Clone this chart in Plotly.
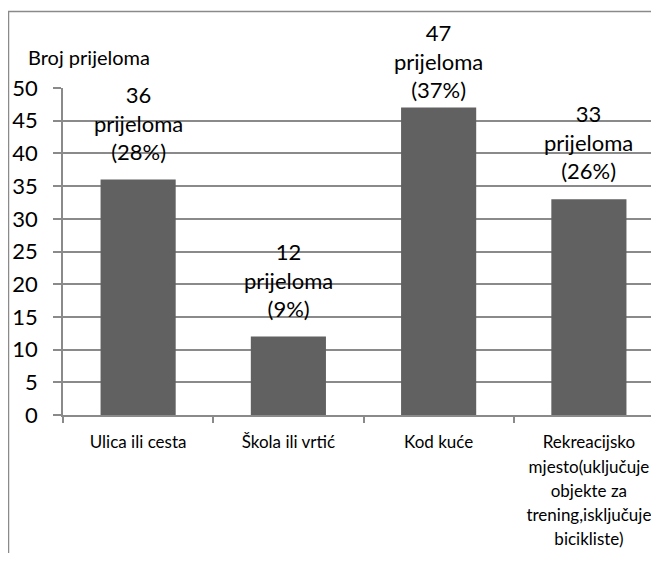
import plotly.graph_objects as go

# data
categories = ["Ulica ili cesta", "Škola ili vrtić", "Kod kuće",
              "Rekreacijsko mjesto(uključuje objekte za trening,isključuje bicikliste)"]
tick_lines = [["Ulica ili cesta"], ["Škola ili vrtić"], ["Kod kuće"],
              ["Rekreacijsko", "mjesto(uključuje", "objekte za",
               "trening,isključuje", "bicikliste)"]]
counts = [36, 12, 47, 33]
percents = [28, 9, 37, 26]
y_title = "Broj prijeloma"

FONT = "Lato, Carlito, Calibri, sans-serif"
GRAY = "#8a8a8a"

# the page body has an 8px margin, so the figure is placed 8px in
OFF = 8
W, H = 659 - 2 * OFF, 561 - 2 * OFF
ml, mt = 63 - OFF, 88 - OFF
mb = H - (415.5 - OFF)
plot_w = W - ml
plot_h = H - mt - mb
# full category band is 150px; the plot is cut at the right edge
x_end = 3.5 - (664 - (OFF + W)) / 150


def px_x(page_x):
    return (page_x - OFF - ml) / plot_w


def px_y(page_y):
    return (H - mb - (page_y - OFF)) / plot_h


# smaller glyphs on taller line spacing, like the reference
tick_text = ["<br>".join(f"<span style='font-size:17px'>{s}</span>" for s in lines)
             for lines in tick_lines]

fig = go.Figure()
fig.add_trace(go.Bar(
    x=categories,
    y=counts,
    width=0.5,
    marker=dict(color="#616161", line=dict(width=0)),
    hoverinfo="x+y",
))

# data labels above bars (Excel keeps the tallest one inside the chart)
for cat, n, p in zip(categories, counts, percents):
    fig.add_annotation(
        x=cat, y=n, text=f"{n}<br>prijeloma<br>({p}%)",
        showarrow=False, yanchor="bottom",
        yshift=3 if n == max(counts) else 13,
        font=dict(family=FONT, size=22, color="#000000"),
    )

# axis title shown horizontally above the axis
fig.add_annotation(
    xref="paper", yref="paper",
    x=px_x(26), y=px_y(57),
    xanchor="left", yanchor="middle", showarrow=False,
    text=y_title, font=dict(family=FONT, size=20, color="#000000"),
)

# chart border (runs off the right and bottom edges)
fig.add_shape(
    type="rect", xref="paper", yref="paper",
    x0=px_x(8.5), x1=1.2,
    y0=-1.0, y1=px_y(11.5),
    line=dict(color=GRAY, width=1.5), layer="below",
)

fig.update_layout(
    width=W, height=H,
    margin=dict(l=ml, r=0, t=mt, b=mb, pad=0),
    paper_bgcolor="white", plot_bgcolor="white",
    showlegend=False,
    font=dict(family=FONT, color="#000000"),
    bargap=0.5,
)
fig.update_xaxes(
    type="category",
    range=[-0.5, x_end],
    tickvals=categories, ticktext=tick_text,
    tickson="boundaries", ticks="outside", ticklen=6, tickcolor=GRAY, tickwidth=1.5,
    showline=True, linecolor=GRAY, linewidth=1.5,
    showgrid=False, zeroline=False,
    ticklabelstandoff=9,
    tickfont=dict(family=FONT, size=18.7, color="#000000"),
    tickangle=0,
)
fig.update_yaxes(
    range=[0, 50], dtick=5,
    ticks="outside", ticklen=8, tickcolor=GRAY, tickwidth=1.5,
    showline=True, linecolor=GRAY, linewidth=1.5,
    showgrid=True, gridcolor=GRAY, gridwidth=1.5,
    zeroline=False,
    ticklabelstandoff=11,
    tickfont=dict(family=FONT, size=22, color="#000000"),
)
fig.update_traces(cliponaxis=False)

fig.write_html("out.html")
